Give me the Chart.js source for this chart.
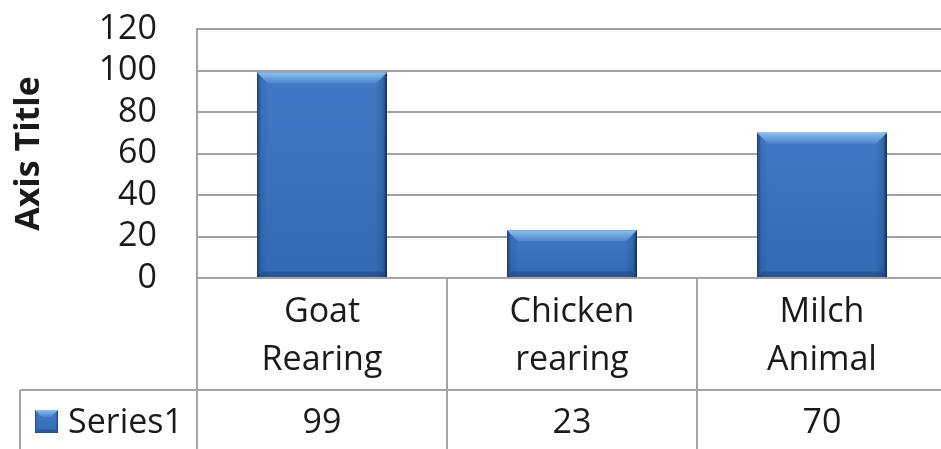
<!DOCTYPE html>
<html>
<head>
<meta charset="utf-8">
<script src="https://cdn.jsdelivr.net/npm/chart.js@4.4.1/dist/chart.umd.min.js"></script>
<style>
  html, body { margin: 0; padding: 0; background: #fff; overflow: hidden; }
  #wrap { width: 941px; height: 449px; overflow: hidden; }
</style>
</head>
<body>
<div id="wrap"><canvas id="chart" width="947" height="449"></canvas></div>
<script>
// data
const categories = ['Goat Rearing', 'Chicken rearing', 'Milch Animal'];
const seriesName = 'Series1';
const seriesValues = [99, 23, 70];
const yTicks = [0, 20, 40, 60, 80, 100, 120];

const FONT = '"Open Sans", Lato, sans-serif';
const GRID = '#a3a3a3';
const TEXT = '#1a1a1a';
const BAR = '#3a71bb';

// Excel-ish bevel on a bar / legend key
function bevel(ctx, l, t, r, b, size) {
    const w = r - l;
    ctx.save();
    let g = ctx.createLinearGradient(0, t, 0, b);
    g.addColorStop(0, '#4179c4');
    g.addColorStop(1, '#326ab4');
    ctx.fillStyle = g;
    ctx.fillRect(l, t, w, b - t);

    // side shading
    g = ctx.createLinearGradient(l, 0, r, 0);
    g.addColorStop(0, 'rgba(15,40,85,0.7)');
    g.addColorStop(Math.min(0.05, 4 / w), 'rgba(15,40,85,0.12)');
    g.addColorStop(Math.min(0.12, 12 / w), 'rgba(15,40,85,0)');
    g.addColorStop(1 - Math.min(0.12, 12 / w), 'rgba(15,40,85,0)');
    g.addColorStop(1 - Math.min(0.05, 4 / w), 'rgba(15,40,85,0.2)');
    g.addColorStop(1, 'rgba(10,30,70,0.85)');
    ctx.fillStyle = g;
    ctx.fillRect(l, t, w, b - t);

    // top highlight
    const s = Math.min(size, (b - t) / 2);
    g = ctx.createLinearGradient(0, t, 0, t + s);
    g.addColorStop(0, '#8cc0ee');
    g.addColorStop(1, '#4a84cc');
    ctx.fillStyle = g;
    ctx.beginPath();
    ctx.moveTo(l, t);
    ctx.lineTo(r, t);
    ctx.lineTo(r - s, t + s);
    ctx.lineTo(l + s, t + s);
    ctx.closePath();
    ctx.fill();

    // bottom shade
    ctx.fillStyle = 'rgba(20,50,100,0.35)';
    ctx.beginPath();
    ctx.moveTo(l, b);
    ctx.lineTo(r, b);
    ctx.lineTo(r - s / 2, b - s / 2);
    ctx.lineTo(l + s / 2, b - s / 2);
    ctx.closePath();
    ctx.fill();
    ctx.restore();
}

const dataTablePlugin = {
    id: 'dataTable',
    afterDatasetsDraw(chart) {
        const ctx = chart.ctx;
        chart.getDatasetMeta(0).data.forEach(bar => {
            const p = bar.getProps(['x', 'y', 'base', 'width'], true);
            bevel(ctx, p.x - p.width / 2, p.y, p.x + p.width / 2, p.base, 11);
        });
    },
    afterDraw(chart) {
        const ctx = chart.ctx;
        const area = chart.chartArea;
        const xs = chart.scales.x;
        const H = chart.height;
        const W = chart.width;
        const rowSplit = area.bottom + 112;

        // cell boundaries
        const edges = [area.left];
        for (let i = 0; i < categories.length - 1; i++) {
            edges.push((xs.getPixelForValue(i) + xs.getPixelForValue(i + 1)) / 2);
        }
        edges.push(area.right);

        ctx.save();
        ctx.strokeStyle = GRID;
        ctx.lineWidth = 2;
        ctx.beginPath();
        edges.forEach(x => { ctx.moveTo(x, area.bottom); ctx.lineTo(x, H); });
        ctx.moveTo(20, rowSplit); ctx.lineTo(W, rowSplit);
        ctx.moveTo(20, rowSplit); ctx.lineTo(20, H);
        ctx.stroke();

        ctx.fillStyle = TEXT;
        ctx.font = '34px ' + FONT;
        ctx.textAlign = 'center';
        ctx.textBaseline = 'alphabetic';
        categories.forEach((c, i) => {
            const cx = xs.getPixelForValue(i);
            c.split(' ').forEach((line, k) => {
                ctx.fillText(line, cx, area.bottom + 44 + k * 48);
            });
            ctx.fillText(String(seriesValues[i]), cx, area.bottom + 155);
        });

        // legend key + series name
        bevel(ctx, 35, area.bottom + 132, 58, area.bottom + 155, 7);
        ctx.textAlign = 'left';
        ctx.fillStyle = TEXT;
        ctx.fillText(seriesName, 68, area.bottom + 155);
        ctx.restore();
    }
};

new Chart(document.getElementById('chart'), {
    type: 'bar',
    data: {
        labels: categories,
        datasets: [{
            label: seriesName,
            data: seriesValues,
            backgroundColor: BAR,
            borderWidth: 0,
            categoryPercentage: 1,
            barPercentage: 0.52
        }]
    },
    options: {
        responsive: false,
        animation: false,
        layout: { padding: { top: 29, bottom: 171, left: 0, right: 0 } },
        plugins: {
            legend: { display: false },
            tooltip: { enabled: false }
        },
        scales: {
            x: { display: false },
            y: {
                min: 0,
                max: 120,
                afterBuildTicks: s => { s.ticks = yTicks.map(v => ({ value: v })); },
                afterFit: s => { s.width = 197; s.paddingTop = 0; s.paddingBottom = 0; },
                grid: { color: GRID, lineWidth: 2, drawTicks: false },
                border: { color: GRID, width: 2 },
                ticks: { color: TEXT, padding: 40, autoSkip: false, font: { family: FONT, size: 34 } },
                title: {
                    display: true,
                    text: 'Axis Title',
                    color: TEXT,
                    padding: { top: 9, bottom: 0 },
                    font: { family: FONT, size: 34, weight: 'bold' }
                }
            }
        }
    },
    plugins: [dataTablePlugin]
});
</script>
</body>
</html>
